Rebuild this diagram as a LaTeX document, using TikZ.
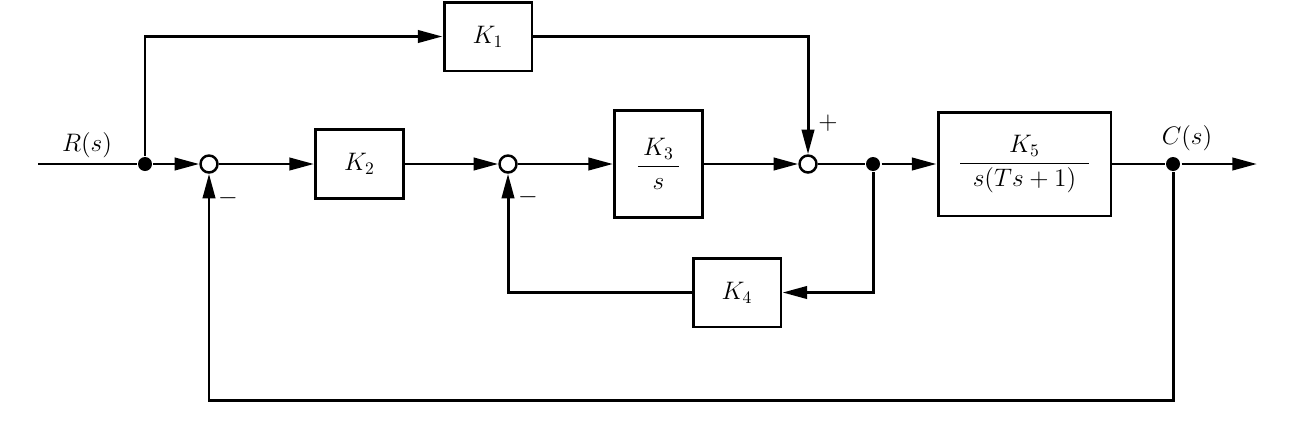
\documentclass[tikz,border=0pt]{standalone}
\usepackage{amsmath}
\usetikzlibrary{arrows.meta, positioning, calc}

\begin{document}
\begin{tikzpicture}[
    x=0.02cm, y=-0.02cm,
    line width=1.7pt,
    font=\fontsize{14pt}{16pt}\selectfont,
    box/.style={draw, minimum width=1.76cm, minimum height=1.38cm, inner sep=0pt},
    junc/.style={draw, circle, minimum size=0.34cm, inner sep=0pt, fill=white, line width=1.4pt},
    dot/.style={circle, fill, minimum size=0.28cm, inner sep=0pt},
    arr/.style={-{Triangle[length=14pt, width=7pt]}},
]
\useasboundingbox (0,0) rectangle (1290,440);

% Forward path
\coordinate (in) at (38,164);
\node[dot]  (br)  at (145,164) {};
\node[junc] (s1)  at (209,164) {};
\node[box]  (k2)  at (359.5,164) {$K_2$};
\node[junc] (s2)  at (508,164) {};
\node[box, minimum height=2.14cm] (k3) at (658.5,164) {$\dfrac{\hspace{3pt}K_3\hspace{3pt}}{s}$};
\node[junc] (s3)  at (808,164) {};
\node[dot]  (tap) at (873,164) {};
\node[box, minimum width=3.46cm, minimum height=2.08cm] (k5) at (1024.5,164) {$\dfrac{K_5}{\hspace{7pt}s(Ts+1)\hspace{7pt}}$};
\node[dot]  (co)  at (1173,164) {};
\coordinate (out) at (1257,164);

% Side blocks
\node[box] (k1) at (488,36.5)  {$K_1$};
\node[box] (k4) at (737,292.5) {$K_4$};

% Signals
\node (rlbl) at (87,145)  {$R(s)$};
\node (clbl) at (1187,138) {$C(s)$};
\node (m1) at (228,198) {$-$};
\node (m2) at (528,197) {$-$};
\node (p3) at (828,123) {$+$};

% Connectors
\draw (in) -- (br);
\draw[arr] (br) -- (s1);
\draw[arr] (s1) -- (k2);
\draw[arr] (k2) -- (s2);
\draw[arr] (s2) -- (k3);
\draw[arr] (k3) -- (s3);
\draw (s3) -- (tap);
\draw[arr] (tap) -- (k5);
\draw (k5) -- (co);
\draw[arr] (co) -- (out);
\draw[arr] (br) |- (k1);
\draw[arr] (k1) -| (s3);
\draw[arr] (tap) |- (k4);
\draw[arr] (k4) -| (s2);
\draw[arr] (co) -- ++(0,236) -| (s1);
\end{tikzpicture}
\end{document}
